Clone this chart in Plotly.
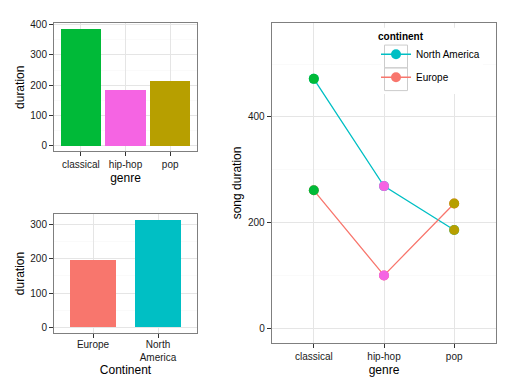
import plotly.graph_objects as go

# ---- data ----
genres = ["classical", "hip-hop", "pop"]
genre_duration = [386, 184, 213]

continents = ["Europe", "North America"]
continent_labels = ["Europe", "North<br>America"]
continent_duration = [195, 313]

na_song_duration = [472, 269, 186]
eu_song_duration = [261, 100, 236]

# ---- styles ----
genre_colors = {"classical": "#00BA38", "hip-hop": "#F564E3", "pop": "#B79F00"}
cont_colors = {"Europe": "#F8766D", "North America": "#00BFC4"}
FONT = "Liberation Sans, Arial, sans-serif"
W, H = 516, 387

fig = go.Figure()

# top-left bars
fig.add_trace(go.Bar(x=genres, y=genre_duration, width=0.9,
                     marker=dict(color=[genre_colors[g] for g in genres], line=dict(width=0)),
                     xaxis="x", yaxis="y", showlegend=False))

# bottom-left bars
fig.add_trace(go.Bar(x=continent_labels, y=continent_duration, width=0.7,
                     marker=dict(color=[cont_colors[c] for c in continents], line=dict(width=0)),
                     xaxis="x2", yaxis="y2", showlegend=False))

# right panel lines (legend)
fig.add_trace(go.Scatter(x=genres, y=na_song_duration, mode="lines+markers", name="North America",
                         line=dict(color=cont_colors["North America"], width=1.3),
                         marker=dict(color=cont_colors["North America"], size=10),
                         xaxis="x3", yaxis="y3", legendgroup="na"))
fig.add_trace(go.Scatter(x=genres, y=eu_song_duration, mode="lines+markers", name="Europe",
                         line=dict(color=cont_colors["Europe"], width=1.3),
                         marker=dict(color=cont_colors["Europe"], size=10),
                         xaxis="x3", yaxis="y3", legendgroup="eu"))
# genre-coloured points on top
for series in (na_song_duration, eu_song_duration):
    fig.add_trace(go.Scatter(x=genres, y=series, mode="markers",
                             marker=dict(color=[genre_colors[g] for g in genres], size=10),
                             xaxis="x3", yaxis="y3", showlegend=False))


def px_x(a, b):
    return [a / W, b / W]


def px_y(top, bottom):
    return [1 - bottom / H, 1 - top / H]


axis_common = dict(showline=True, mirror=True, linecolor="#7F7F7F", linewidth=1,
                   ticks="outside", ticklen=4, tickcolor="#333333", tickwidth=1,
                   gridcolor="#E5E5E5", gridwidth=1, zeroline=False,
                   tickfont=dict(family=FONT, size=10, color="#1a1a1a"),
                   title_font=dict(family=FONT, size=12, color="black"))

# legend background and key boxes (ggplot style)
LEG_X = 376
shapes = [
    dict(type="rect", xref="paper", yref="paper", layer="above",
         x0=381 / W, x1=483 / W, y0=1 - 91 / H, y1=1 - 24 / H,
         fillcolor="white", line=dict(width=0)),
]
for cy in (53, 76):
    shapes.append(dict(type="rect", xref="paper", yref="paper", layer="above",
                       x0=(LEG_X + 8.5) / W, x1=(LEG_X + 31.5) / W,
                       y0=1 - (cy + 11.5) / H, y1=1 - (cy - 11.5) / H,
                       fillcolor="rgba(0,0,0,0)", line=dict(color="#CCCCCC", width=1)))

fig.update_layout(
    width=W, height=H, margin=dict(l=0, r=0, t=0, b=0),
    paper_bgcolor="white", plot_bgcolor="white",
    font=dict(family=FONT, size=10, color="black"),
    xaxis=dict(domain=px_x(54, 197), anchor="y", type="category", range=[-0.6, 2.6],
               title=dict(text="genre", standoff=4), **axis_common),
    yaxis=dict(domain=px_y(19.3, 149), anchor="x", range=[-19.3, 405.3], dtick=100,
               minor=dict(dtick=50, showgrid=True, gridcolor="#FAFAFA"),
               title=dict(text="duration", standoff=3), **axis_common),
    xaxis2=dict(domain=px_x(54, 197), anchor="y2", type="category", range=[-0.6, 1.6],
                ticklabelstandoff=-2,
                title=dict(text="Continent", standoff=1), **axis_common),
    yaxis2=dict(domain=px_y(212.3, 332.3), anchor="x2", range=[-15.7, 329.3], dtick=100,
                minor=dict(dtick=50, showgrid=True, gridcolor="#FAFAFA"),
                title=dict(text="duration", standoff=3), **axis_common),
    xaxis3=dict(domain=px_x(271.7, 496.3), anchor="y3", type="category", range=[-0.6, 2.6],
                title=dict(text="genre", standoff=4), **axis_common),
    yaxis3=dict(domain=px_y(19.3, 342.3), anchor="x3", range=[-27.5, 577.5], dtick=200,
                minor=dict(dtick=100, showgrid=True, gridcolor="#FAFAFA"),
                title=dict(text="song duration", standoff=3), **axis_common),
    legend=dict(x=LEG_X / W, y=1 - 23 / H, xanchor="left", yanchor="top",
                bgcolor="rgba(0,0,0,0)", borderwidth=0,
                title=dict(text="<b>continent</b>", font=dict(family=FONT, size=10)),
                font=dict(family=FONT, size=10, color="black"),
                traceorder="grouped", tracegroupgap=4),
    shapes=shapes,
    bargap=0,
)

fig.write_html("out.html", config={"displayModeBar": False},
               post_script="document.body.style.margin='0';document.body.style.padding='0';")
